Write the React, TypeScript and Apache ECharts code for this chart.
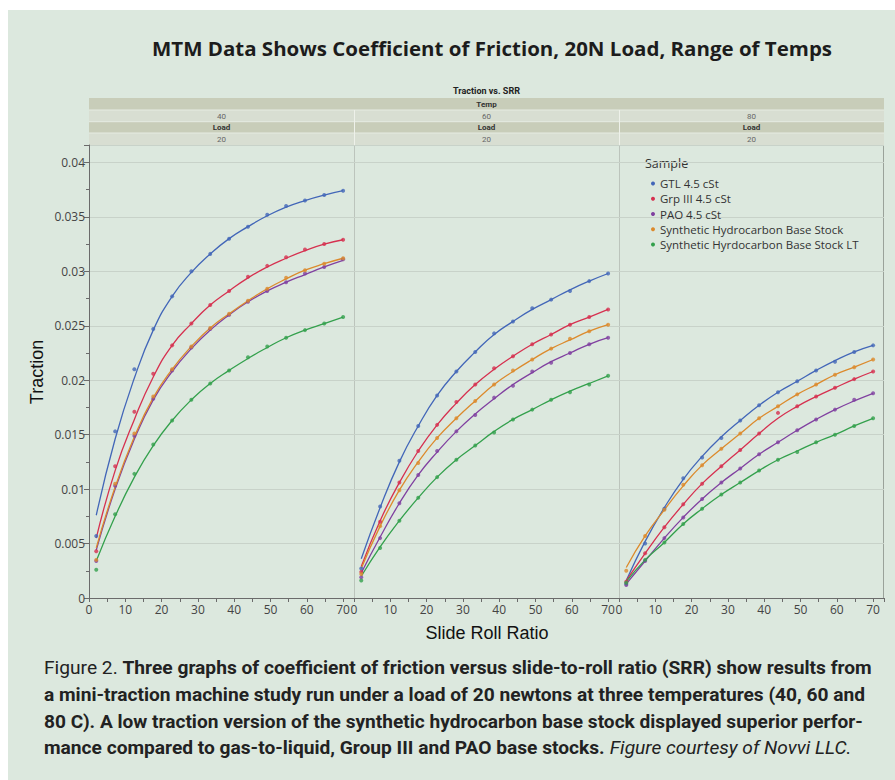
import React, { useEffect, useRef } from "react";
import * as echarts from "echarts";

// ---------- data ----------
const samples = [
  "GTL 4.5 cSt",
  "Grp III 4.5 cSt",
  "PAO 4.5 cSt",
  "Synthetic Hydrocarbon Base Stock",
  "Synthetic Hyrdocarbon Base Stock LT",
];
const sampleColors = ["#4266b8", "#d6304f", "#8040a0", "#dc8a2c", "#33a04c"];
const temps = ["40", "60", "80"];
const loads = ["20", "20", "20"];
const srr = [2, 7.2, 12.5, 17.7, 22.9, 28.2, 33.4, 38.6, 43.8, 49.1, 54.3, 59.5, 64.8, 70];

// Temp 40 - measured points
const gtl40 = [0.0057, 0.0153, 0.021, 0.0247, 0.0277, 0.03, 0.0316, 0.033, 0.0341, 0.0352, 0.036, 0.0365, 0.037, 0.0374];
const grp40 = [0.0043, 0.0121, 0.0171, 0.0206, 0.0232, 0.0252, 0.0269, 0.0282, 0.0295, 0.0305, 0.0313, 0.032, 0.0325, 0.0329];
const pao40 = [0.0034, 0.0103, 0.0149, 0.0183, 0.0209, 0.023, 0.0247, 0.026, 0.0272, 0.0282, 0.029, 0.0298, 0.0304, 0.0311];
const shb40 = [0.0035, 0.0105, 0.0151, 0.0185, 0.021, 0.0231, 0.0248, 0.0261, 0.0273, 0.0284, 0.0294, 0.0301, 0.0307, 0.0312];
const lt40 = [0.0026, 0.0077, 0.0114, 0.0141, 0.0163, 0.0182, 0.0197, 0.0209, 0.0221, 0.0231, 0.0239, 0.0246, 0.0252, 0.0258];
// Temp 40 - fitted curves
const gtl40Fit = [0.0076, 0.0146, 0.0202, 0.0246, 0.0277, 0.0299, 0.0316, 0.033, 0.0341, 0.0351, 0.0359, 0.0365, 0.037, 0.0374];
const grp40Fit = [0.0055, 0.0117, 0.0164, 0.0203, 0.0232, 0.0252, 0.0269, 0.0282, 0.0294, 0.0304, 0.0312, 0.0319, 0.0325, 0.0329];
const pao40Fit = [0.0044, 0.01, 0.0146, 0.0182, 0.0208, 0.0229, 0.0246, 0.026, 0.0272, 0.0282, 0.029, 0.0297, 0.0304, 0.031];
const shb40Fit = [0.0046, 0.0102, 0.0148, 0.0184, 0.021, 0.0231, 0.0248, 0.0261, 0.0273, 0.0284, 0.0293, 0.0301, 0.0307, 0.0312];
const lt40Fit = [0.0034, 0.0075, 0.0111, 0.014, 0.0163, 0.0182, 0.0197, 0.0209, 0.022, 0.023, 0.0239, 0.0246, 0.0252, 0.0258];

// Temp 60 - measured points
const gtl60 = [0.0027, 0.0084, 0.0126, 0.0158, 0.0186, 0.0208, 0.0226, 0.0243, 0.0254, 0.0266, 0.0274, 0.0282, 0.0291, 0.0298];
const grp60 = [0.0024, 0.007, 0.0106, 0.0135, 0.0159, 0.018, 0.0196, 0.0211, 0.0222, 0.0233, 0.0242, 0.0251, 0.0258, 0.0265];
const pao60 = [0.0019, 0.0055, 0.0087, 0.0113, 0.0135, 0.0153, 0.0168, 0.0184, 0.0195, 0.0208, 0.0216, 0.0225, 0.0233, 0.0239];
const shb60 = [0.0022, 0.0066, 0.0099, 0.0124, 0.0147, 0.0165, 0.0181, 0.0196, 0.0209, 0.0219, 0.0229, 0.0238, 0.0245, 0.0251];
const lt60 = [0.0016, 0.0046, 0.0071, 0.0092, 0.0111, 0.0127, 0.014, 0.0152, 0.0164, 0.0173, 0.0182, 0.0189, 0.0196, 0.0204];
// Temp 60 - fitted curves
const gtl60Fit = [0.0036, 0.0083, 0.0125, 0.0158, 0.0186, 0.0208, 0.0226, 0.0242, 0.0254, 0.0265, 0.0274, 0.0283, 0.0291, 0.0298];
const grp60Fit = [0.0029, 0.0071, 0.0106, 0.0135, 0.0159, 0.0179, 0.0196, 0.021, 0.0222, 0.0233, 0.0242, 0.0251, 0.0258, 0.0265];
const pao60Fit = [0.0023, 0.0056, 0.0087, 0.0113, 0.0134, 0.0153, 0.0169, 0.0183, 0.0196, 0.0207, 0.0217, 0.0225, 0.0233, 0.0239];
const shb60Fit = [0.0027, 0.0066, 0.0099, 0.0125, 0.0147, 0.0165, 0.0181, 0.0196, 0.0208, 0.0219, 0.0229, 0.0237, 0.0245, 0.0251];
const lt60Fit = [0.002, 0.0047, 0.0071, 0.0092, 0.0111, 0.0127, 0.014, 0.0153, 0.0164, 0.0173, 0.0182, 0.019, 0.0197, 0.0204];

// Temp 80 - measured points
const gtl80 = [0.0013, 0.005, 0.0082, 0.011, 0.0129, 0.0147, 0.0163, 0.0177, 0.0189, 0.0199, 0.0209, 0.0217, 0.0226, 0.0232];
const grp80 = [0.0015, 0.0041, 0.0065, 0.0086, 0.0105, 0.0121, 0.0136, 0.0151, 0.017, 0.0176, 0.0185, 0.0193, 0.0201, 0.0208];
const pao80 = [0.0012, 0.0034, 0.0055, 0.0074, 0.0091, 0.0106, 0.0119, 0.0132, 0.0143, 0.0154, 0.0164, 0.0173, 0.0182, 0.0188];
const shb80 = [0.0025, 0.0057, 0.0081, 0.0104, 0.0122, 0.0137, 0.0151, 0.0165, 0.0176, 0.0187, 0.0196, 0.0205, 0.0212, 0.0219];
const lt80 = [0.0014, 0.0035, 0.0051, 0.0068, 0.0082, 0.0095, 0.0106, 0.0117, 0.0127, 0.0134, 0.0143, 0.015, 0.0158, 0.0165];
// Temp 80 - fitted curves
const gtl80Fit = [0.0016, 0.0052, 0.0083, 0.0109, 0.013, 0.0148, 0.0163, 0.0177, 0.0189, 0.0199, 0.0209, 0.0218, 0.0226, 0.0232];
const grp80Fit = [0.0016, 0.0041, 0.0065, 0.0086, 0.0105, 0.0121, 0.0136, 0.0151, 0.0165, 0.0176, 0.0185, 0.0193, 0.0201, 0.0208];
const pao80Fit = [0.0013, 0.0034, 0.0055, 0.0074, 0.0091, 0.0106, 0.0119, 0.0132, 0.0143, 0.0154, 0.0164, 0.0173, 0.0181, 0.0188];
const shb80Fit = [0.0028, 0.0057, 0.0081, 0.0103, 0.0122, 0.0137, 0.0151, 0.0165, 0.0176, 0.0187, 0.0196, 0.0205, 0.0212, 0.0219];
const lt80Fit = [0.0015, 0.0035, 0.0051, 0.0068, 0.0082, 0.0095, 0.0106, 0.0117, 0.0127, 0.0135, 0.0143, 0.015, 0.0158, 0.0165];

const observed = [
  [gtl40, grp40, pao40, shb40, lt40],
  [gtl60, grp60, pao60, shb60, lt60],
  [gtl80, grp80, pao80, shb80, lt80],
];
const fitted = [
  [gtl40Fit, grp40Fit, pao40Fit, shb40Fit, lt40Fit],
  [gtl60Fit, grp60Fit, pao60Fit, shb60Fit, lt60Fit],
  [gtl80Fit, grp80Fit, pao80Fit, shb80Fit, lt80Fit],
];

const titleText = "MTM Data Shows Coefficient of Friction, 20N Load, Range of Temps";
const captionLines = [
  [
    { s: "r", t: "Figure 2. " },
    { s: "b", t: "Three graphs of coefficient of friction versus slide-to-roll ratio (SRR) show results from" },
  ],
  [{ s: "b", t: "a mini-traction machine study run under a load of 20 newtons at three temperatures (40, 60 and" }],
  [{ s: "b", t: "80 C). A low traction version of the synthetic hydrocarbon base stock displayed superior perfor-" }],
  [
    { s: "b", t: "mance compared to gas-to-liquid, Group III and PAO base stocks. " },
    { s: "i", t: "Figure courtesy of Novvi LLC." },
  ],
];

// ---------- layout ----------
const W = 887;
const H = 770;
const BG = "#dce8de";
const gridLefts = [81, 346, 611];
const gridW = 265;
const gridTop = 135;
const gridH = 453;
const capFont = "Roboto";
const capSize = 18;
const capWidths = [828, 822, 820, 808];
const capYs = [658, 685, 712, 738];
const titleSize = 19;
const titleWidth = 680;

function fontOf(s: string) {
  if (s === "b") return `normal 700 ${capSize}px ${capFont}`;
  if (s === "i") return `italic 400 ${capSize}px ${capFont}`;
  return `normal 400 ${capSize}px ${capFont}`;
}

function measure(parts: { font: string; t: string }[]) {
  const ctx = document.createElement("canvas").getContext("2d");
  if (!ctx) return 0;
  let w = 0;
  for (const p of parts) {
    ctx.font = p.font;
    w += ctx.measureText(p.t).width;
  }
  return w;
}

export default function App() {
  const ref = useRef<HTMLDivElement>(null);

  useEffect(() => {
    if (!ref.current) return;
    const chart = echarts.init(ref.current, undefined, { renderer: "svg" });

    const grids = gridLefts.map((left) => ({
      left,
      top: gridTop,
      width: gridW,
      height: gridH,
      show: false,
    }));

    const xAxes = gridLefts.map((_, p) => ({
      type: "value",
      gridIndex: p,
      min: 0,
      max: 73,
      interval: 10,
      axisLine: { show: true, lineStyle: { color: "#6b6b6b", width: 1 } },
      axisTick: { show: true, length: 4, lineStyle: { color: "#6b6b6b" } },
      minorTick: { show: true, splitNumber: 2, length: 4, lineStyle: { color: "#6b6b6b" } },
      axisLabel: {
        fontSize: 12,
        color: "#444",
        fontFamily: "Open Sans",
        margin: 5,
        formatter: (v: number) => (Math.abs(v % 10) < 1e-6 ? String(v) : ""),
      },
      splitLine: { show: false },
    }));

    const yAxes = gridLefts.map((_, p) => ({
      type: "value",
      gridIndex: p,
      min: 0,
      max: 0.0416,
      interval: 0.005,
      axisLine: { show: p === 0, lineStyle: { color: "#6b6b6b", width: 1 } },
      axisTick: { show: p === 0, length: 5, lineStyle: { color: "#6b6b6b" } },
      minorTick: { show: p === 0, splitNumber: 2, length: 3, lineStyle: { color: "#6b6b6b" } },
      axisLabel: {
        show: p === 0,
        fontSize: 12,
        color: "#444",
        fontFamily: "Open Sans",
        margin: 4,
        formatter: (v: number) => (v > 0.0405 ? "" : String(+v.toFixed(4))),
      },
      splitLine: { show: true, lineStyle: { color: "#c8d2c9", width: 1 } },
    }));

    const series: any[] = [];
    for (let p = 0; p < 3; p++) {
      for (let s = 0; s < samples.length; s++) {
        const color = sampleColors[s];
        series.push({
          type: "line",
          name: samples[s],
          xAxisIndex: p,
          yAxisIndex: p,
          data: srr.map((x, i) => [x, fitted[p][s][i]]),
          smooth: 0.5,
          showSymbol: false,
          symbol: "none",
          lineStyle: { color, width: 1.3 },
          itemStyle: { color },
          silent: true,
          z: 2,
        });
        series.push({
          type: "scatter",
          name: samples[s],
          xAxisIndex: p,
          yAxisIndex: p,
          data: srr.map((x, i) => [x, observed[p][s][i]]),
          symbol: "circle",
          symbolSize: 4,
          itemStyle: { color },
          silent: true,
          z: 3,
        });
      }
    }

    const graphics: any[] = [];
    // panel dividers and right frame
    [gridLefts[1], gridLefts[2]].forEach((x) =>
      graphics.push({
        type: "line",
        shape: { x1: x + 0.5, y1: gridTop, x2: x + 0.5, y2: gridTop + gridH },
        style: { stroke: "#bcc4bc", lineWidth: 1 },
        silent: true,
      })
    );
    graphics.push({
      type: "line",
      shape: { x1: gridLefts[2] + gridW - 0.5, y1: gridTop, x2: gridLefts[2] + gridW - 0.5, y2: gridTop + gridH },
      style: { stroke: "#9aa29a", lineWidth: 1 },
      silent: true,
    });

    // header bands
    const bandX = gridLefts[0];
    const bandW = gridLefts[2] + gridW - gridLefts[0];
    const dark = "#c8cdb9";
    const light = "#d8ded2";
    const rows = [
      { y: 88, h: 12, fill: dark },
      { y: 100, h: 11.7, fill: light },
      { y: 111.7, h: 11.3, fill: dark },
      { y: 123, h: 12, fill: light },
    ];
    rows.forEach((r) =>
      graphics.push({
        type: "rect",
        shape: { x: bandX, y: r.y, width: bandW, height: r.h },
        style: { fill: r.fill },
        silent: true,
      })
    );
    [100, 111.7, 123].forEach((y) =>
      graphics.push({
        type: "line",
        shape: { x1: bandX, y1: y, x2: bandX + bandW, y2: y },
        style: { stroke: "#e6ebe2", lineWidth: 1 },
        silent: true,
      })
    );
    [gridLefts[1], gridLefts[2]].forEach((x) =>
      graphics.push({
        type: "line",
        shape: { x1: x + 0.5, y1: 100, x2: x + 0.5, y2: gridTop },
        style: { stroke: "#eef1ea", lineWidth: 1 },
        silent: true,
      })
    );
    const smallText = (x: number, y: number, text: string, bold: boolean, size: number, fill: string) => ({
      type: "text",
      x,
      y,
      silent: true,
      style: {
        text,
        fill,
        fontSize: size,
        fontWeight: bold ? 700 : 400,
        fontFamily: "Roboto",
        align: "center",
        verticalAlign: "middle",
      },
    });
    const midX = bandX + bandW / 2;
    graphics.push(smallText(midX, 81, "Traction vs. SRR", true, 9, "#222"));
    graphics.push(smallText(midX, 94, "Temp", true, 8, "#333"));
    gridLefts.forEach((l, p) => {
      const cx = l + gridW / 2;
      graphics.push(smallText(cx, 106, temps[p], false, 8, "#666"));
      graphics.push(smallText(cx, 117.5, "Load", true, 8, "#333"));
      graphics.push(smallText(cx, 129, loads[p], false, 8, "#666"));
    });

    // title
    const titleNatural = measure([{ font: `normal 700 ${titleSize}px "Open Sans"`, t: titleText }]);
    graphics.push({
      type: "text",
      x: 484,
      y: 39,
      scaleX: titleNatural > 0 ? titleWidth / titleNatural : 1,
      silent: true,
      style: {
        text: titleText,
        fill: "#1c1c1c",
        fontSize: titleSize,
        fontWeight: 700,
        fontFamily: "Open Sans",
        align: "center",
        verticalAlign: "middle",
      },
    });

    // axis titles
    graphics.push({
      type: "text",
      x: 29,
      y: 362,
      rotation: Math.PI / 2,
      silent: true,
      style: {
        text: "Traction",
        fill: "#111",
        fontSize: 18,
        fontFamily: "Liberation Sans",
        align: "center",
        verticalAlign: "middle",
      },
    });
    graphics.push({
      type: "text",
      x: 479,
      y: 623,
      silent: true,
      style: {
        text: "Slide Roll Ratio",
        fill: "#111",
        fontSize: 18,
        fontFamily: "Liberation Sans",
        align: "center",
        verticalAlign: "middle",
      },
    });

    // legend title
    graphics.push({
      type: "text",
      x: 637,
      y: 153,
      silent: true,
      style: {
        text: "Sample",
        fill: "#333",
        fontSize: 12.5,
        fontFamily: "Open Sans",
        align: "left",
        verticalAlign: "middle",
      },
    });

    // caption
    captionLines.forEach((parts, li) => {
      const natural = measure(parts.map((p) => ({ font: fontOf(p.s), t: p.t })));
      const sx = natural > 0 ? capWidths[li] / natural : 1;
      graphics.push({
        type: "text",
        x: 36,
        y: capYs[li],
        scaleX: sx,
        silent: true,
        style: {
          text: parts.map((p) => `{${p.s}|${p.t}}`).join(""),
          align: "left",
          verticalAlign: "middle",
          rich: {
            r: { fontSize: capSize, fontFamily: capFont, fontWeight: 400, fill: "#222" },
            b: { fontSize: capSize, fontFamily: capFont, fontWeight: 700, fill: "#222" },
            i: { fontSize: capSize, fontFamily: capFont, fontWeight: 400, fontStyle: "italic", fill: "#222" },
          },
        },
      });
    });

    chart.setOption({
      animation: false,
      backgroundColor: BG,
      grid: grids,
      xAxis: xAxes,
      yAxis: yAxes,
      legend: {
        show: true,
        orient: "vertical",
        left: 638,
        top: 161,
        itemWidth: 4,
        itemHeight: 4,
        itemGap: 0,
        selectedMode: false,
        data: samples.map((name) => ({ name, icon: "circle" })),
        textStyle: { fontSize: 11.5, color: "#333", fontFamily: "Open Sans", lineHeight: 15.2 },
      },
      series,
      graphic: graphics,
    });

    return () => chart.dispose();
  }, []);

  return (
    <div
      ref={ref}
      style={{ position: "absolute", left: 8, top: 10, width: W, height: H }}
    />
  );
}
